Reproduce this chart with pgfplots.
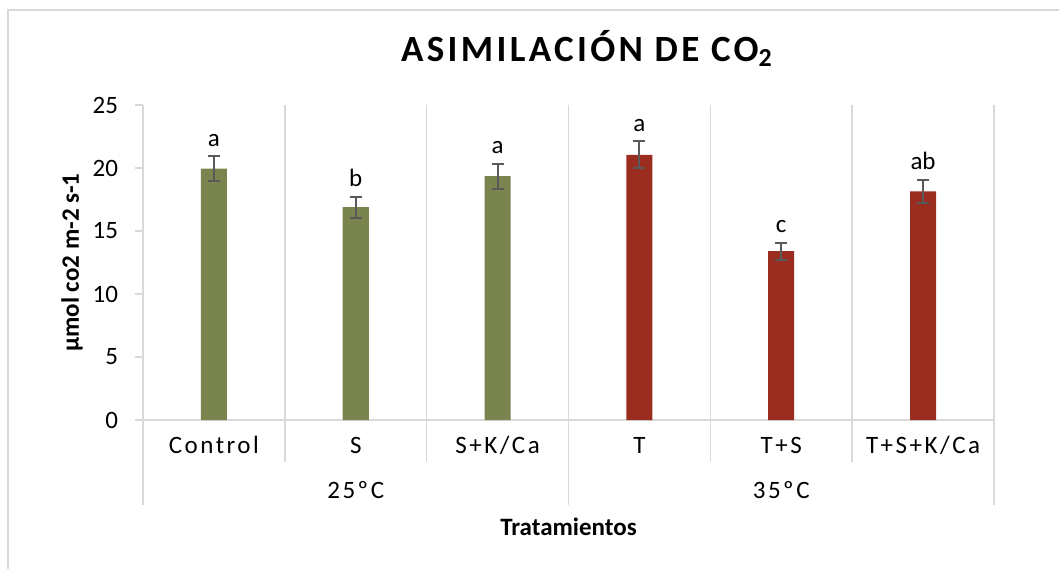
\documentclass[border=0pt]{standalone}
\usepackage{fontspec}
\setmainfont{Carlito}
\usepackage{pgfplots}
\pgfplotsset{compat=1.18}
\definecolor{barG}{RGB}{122,132,78}
\definecolor{barR}{RGB}{154,45,31}
\definecolor{gridc}{RGB}{217,217,217}
\definecolor{errc}{RGB}{89,89,89}
\newcommand{\lblfont}{\fontsize{12.5}{14}\selectfont}
\newcommand{\spfont}{\fontsize{12.5}{14}\selectfont\addfontfeatures{LetterSpace=10}}
\begin{document}
\begin{tikzpicture}[x=1pt,y=1pt]
\path[use as bounding box] (0,0) rectangle (529.5,284.5);
\draw[gridc, line width=0.75pt] (4,0) -- (4,279.5) -- (529.5,279.5);
\begin{axis}[
  at={(71.5pt,74.5pt)}, anchor=south west,
  scale only axis, width=425.5pt, height=157.5pt,
  xmin=-0.5, xmax=5.5, ymin=0, ymax=25,
  clip=false,
  axis x line=bottom, axis y line=left,
  axis line style={-, draw=gridc, line width=0.75pt},
  xtick=\empty,
  ytick={0,5,10,15,20,25},
  tick align=outside,
  major tick length=4pt,
  y tick style={draw=gridc, line width=0.75pt},
  /pgf/number format/assume math mode=true,
  yticklabel style={font=\lblfont, text=black, xshift=-5pt},
]
% vertical grid lines and category separators
\draw[gridc, line width=0.75pt] (axis cs:-0.5,25) -- ([yshift=-42.5pt]axis cs:-0.5,0);
\draw[gridc, line width=0.75pt] (axis cs:0.5,25) -- ([yshift=-21pt]axis cs:0.5,0);
\draw[gridc, line width=0.75pt] (axis cs:1.5,25) -- ([yshift=-21pt]axis cs:1.5,0);
\draw[gridc, line width=0.75pt] (axis cs:2.5,25) -- ([yshift=-42.5pt]axis cs:2.5,0);
\draw[gridc, line width=0.75pt] (axis cs:3.5,25) -- ([yshift=-21pt]axis cs:3.5,0);
\draw[gridc, line width=0.75pt] (axis cs:4.5,25) -- ([yshift=-21pt]axis cs:4.5,0);
\draw[gridc, line width=0.75pt] (axis cs:5.5,25) -- ([yshift=-42.5pt]axis cs:5.5,0);

\addplot[ybar, bar width=13pt, bar shift=0pt, fill=barG, draw=none,
  error bars/.cd, y dir=both, y explicit,
  error bar style={draw=errc, line width=1pt},
  error mark options={rotate=90, draw=errc, mark size=3pt, line width=1pt}]
  table[x=x, y=y, y error=e] {
x y e
0 19.95 1.00
1 16.90 0.83
2 19.35 0.98
};
\addplot[ybar, bar width=13pt, bar shift=0pt, fill=barR, draw=none,
  error bars/.cd, y dir=both, y explicit,
  error bar style={draw=errc, line width=1pt},
  error mark options={rotate=90, draw=errc, mark size=3pt, line width=1pt}]
  table[x=x, y=y, y error=e] {
x y e
3 21.05 1.07
4 13.40 0.67
5 18.15 0.92
};
% significance letters above error bars
\addplot[draw=none, mark=none, nodes near coords, point meta=explicit symbolic,
  nodes near coords style={anchor=base, yshift=5pt, font=\lblfont, text=black, inner sep=0pt}]
  table[x=x, y=y, meta=lab] {
x y lab
0 20.95 a
1 17.73 b
2 20.33 a
3 22.12 a
4 14.07 c
5 19.07 ab
};
% category labels
\node[anchor=base, font=\spfont] at ([yshift=-16.5pt]axis cs:0,0) {Control};
\node[anchor=base, font=\spfont] at ([yshift=-16.5pt]axis cs:1,0) {S};
\node[anchor=base, font=\spfont] at ([yshift=-16.5pt]axis cs:2,0) {S+K/Ca};
\node[anchor=base, font=\spfont] at ([yshift=-16.5pt]axis cs:3,0) {T};
\node[anchor=base, font=\spfont] at ([yshift=-16.5pt]axis cs:4,0) {T+S};
\node[anchor=base, font=\spfont] at ([yshift=-16.5pt]axis cs:5,0) {T+S+K/Ca};
\node[anchor=base, font=\spfont] at ([yshift=-39pt]axis cs:1,0) {25ºC};
\node[anchor=base, font=\spfont] at ([yshift=-39pt]axis cs:4,0) {35ºC};
\node[anchor=base, font=\lblfont\bfseries] at ([yshift=-57.5pt]axis cs:2.5,0) {Tratamientos};
\end{axis}
\node[rotate=90, font=\lblfont\bfseries] at (36,153.25) {µmol co2 m-2 s-1};
\node[anchor=base, font=\fontsize{18.5}{20}\selectfont\bfseries\addfontfeatures{LetterSpace=9}] at (293.5,254) {ASIMILACIÓN DE CO\textsubscript{2}};
\end{tikzpicture}
\end{document}
